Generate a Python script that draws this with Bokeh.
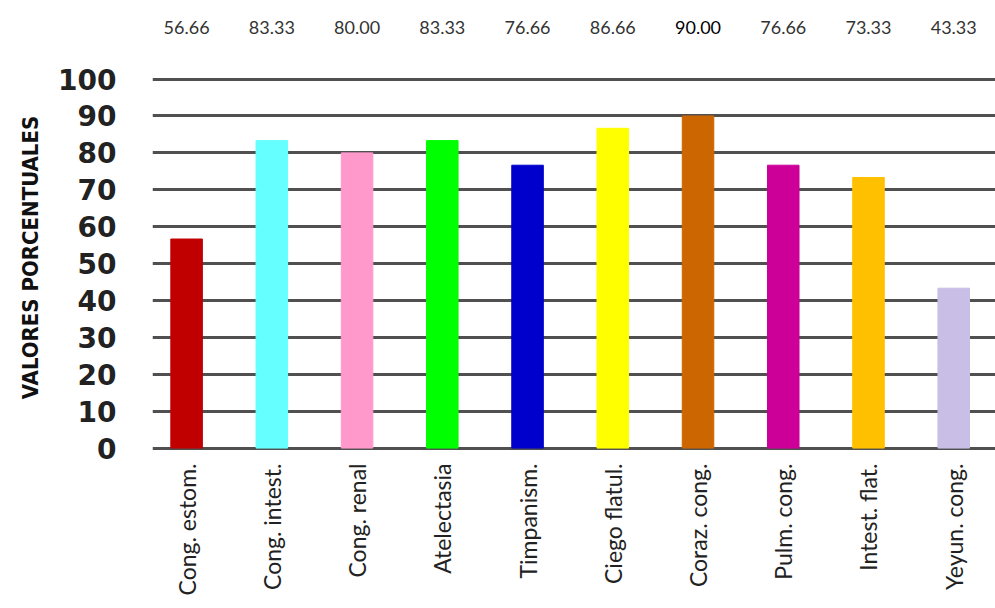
from bokeh.plotting import figure
from bokeh.models import ColumnDataSource, Range1d, FixedTicker, LabelSet
from bokeh.core.properties import value
from bokeh.embed import file_html
from bokeh.resources import INLINE

# Hallazgos de necropsia (% de casos)
categories = ["Cong. estom.", "Cong. intest.", "Cong. renal", "Atelectasia", "Timpanism.",
              "Ciego flatul.", "Coraz. cong.", "Pulm. cong.", "Intest. flat.", "Yeyun. cong."]
values = [56.66, 83.33, 80.00, 83.33, 76.66, 86.66, 90.00, 76.66, 73.33, 43.33]
value_labels = ["56.66", "83.33", "80.00", "83.33", "76.66", "86.66", "90.00", "76.66", "73.33", "43.33"]
label_colors = ["#333333"] * 6 + ["#000000"] + ["#333333"] * 3
bar_colors = ["#C00000", "#66FFFF", "#FF99CC", "#00FF00", "#0000CC",
              "#FFFF00", "#CC6600", "#CC0099", "#FFC000", "#C9BEE6"]
y_ticks = [0, 10, 20, 30, 40, 50, 60, 70, 80, 90, 100]

xs = list(range(len(categories)))
src = ColumnDataSource(dict(x=xs, top=values, color=bar_colors,
                            label=value_labels, lcolor=label_colors,
                            ly=[114.1] * len(xs)))

p = figure(width=995, height=608, output_backend="svg", toolbar_location=None,
           x_range=Range1d(-0.4, 9.49), y_range=Range1d(-1.2, 121.3),
           min_border_left=152, min_border_right=0, min_border_top=0,
           min_border_bottom=156)
p.outline_line_color = None
p.background_fill_color = "white"

p.xgrid.grid_line_color = None
p.ygrid.ticker = FixedTicker(ticks=y_ticks)
p.ygrid.grid_line_color = "#505050"
p.ygrid.grid_line_width = 3

p.vbar(x="x", top="top", bottom=0, width=0.37, color="color", source=src)

labels = LabelSet(x="x", y="ly", text="label", source=src, text_align="center",
                  text_baseline="middle", text_font=value("Lato"),
                  text_font_size=value("18px"), text_color="lcolor")
p.add_layout(labels)

# Eje Y
p.yaxis.ticker = FixedTicker(ticks=y_ticks)
p.yaxis.axis_line_color = None
p.yaxis.major_tick_line_color = None
p.yaxis.minor_tick_line_color = None
p.yaxis.major_label_text_font = "DejaVu Sans"
p.yaxis.major_label_text_font_style = "bold"
p.yaxis.major_label_text_font_size = "28px"
p.yaxis.major_label_text_color = "#222222"
p.yaxis.major_label_standoff = 30
# non-breaking spaces push the title a little below the frame's centre
p.yaxis.axis_label = "VALORES PORCENTUALES" + "\u00a0" * 9
p.yaxis.axis_label_text_font = "DejaVu Sans Condensed"
p.yaxis.axis_label_text_font_style = "bold"
p.yaxis.axis_label_text_font_size = "22px"
p.yaxis.axis_label_text_color = "#111111"
p.yaxis.axis_label_standoff = 12

# Eje X
p.xaxis.ticker = FixedTicker(ticks=xs)
p.xaxis.major_label_overrides = {i: c for i, c in enumerate(categories)}
p.xaxis.major_label_orientation = 1.5708
p.xaxis.axis_line_color = None
p.xaxis.major_tick_line_color = None
p.xaxis.minor_tick_line_color = None
p.xaxis.major_label_text_font = "Lato"
p.xaxis.major_label_text_font_size = "23px"
p.xaxis.major_label_text_color = "#222222"
p.xaxis.major_label_standoff = 5

open("out.html", "w").write(file_html(p, INLINE))
